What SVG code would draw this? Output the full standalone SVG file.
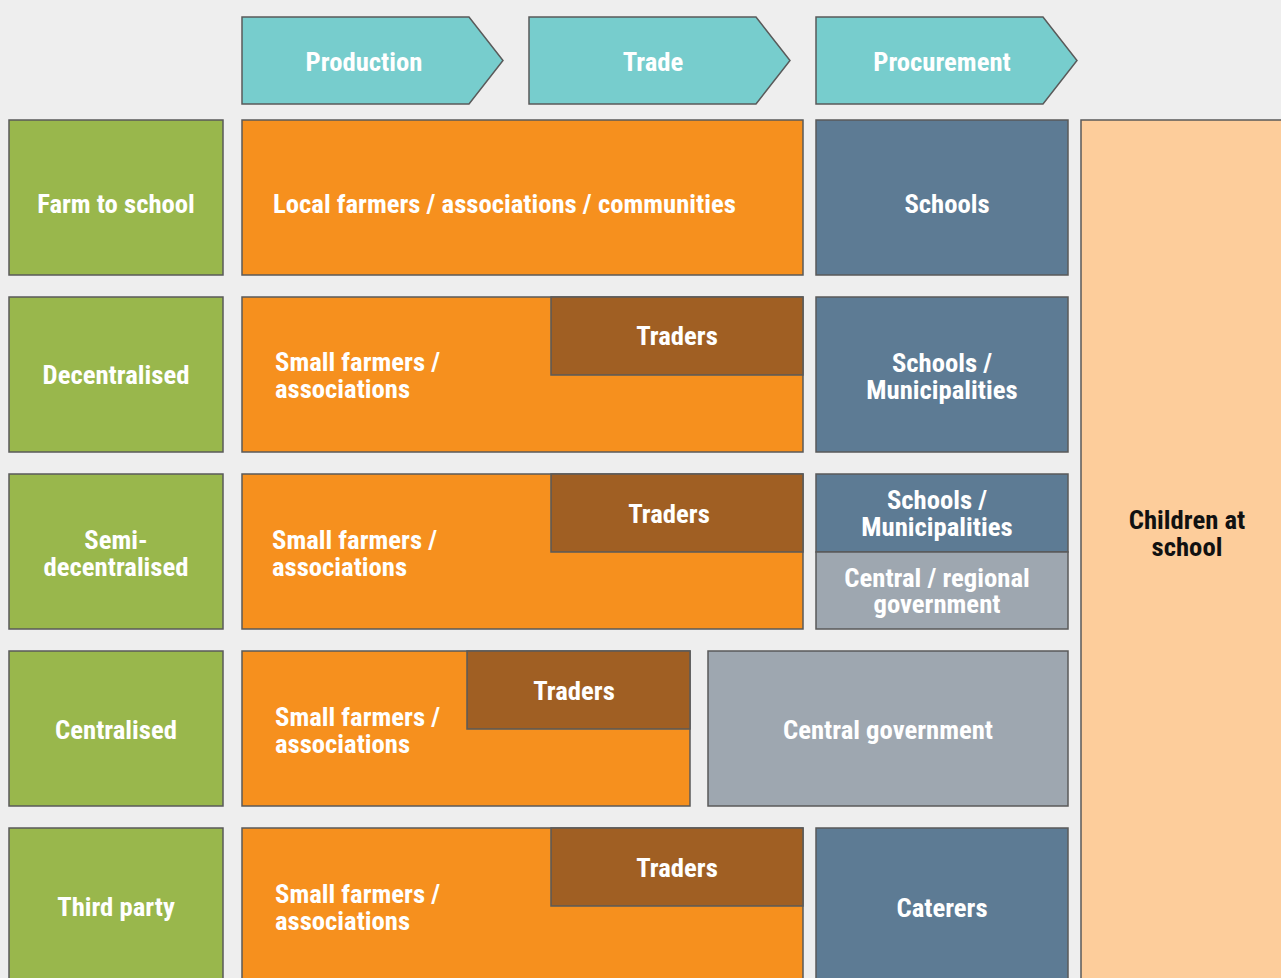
<svg xmlns="http://www.w3.org/2000/svg" width="1281" height="978" viewBox="0 0 1281 978">
<style>
.bx{stroke:#5a5a5a;stroke-width:1.5}
.hd{fill:#77cdcd}
.gr{fill:#99b74c}
.or{fill:#f6901e}
.tr{fill:#a05f23}
.bl{fill:#5d7b94}
.gy{fill:#9ea7b0}
.ch{fill:#fdcd9b}
text{font-family:"Roboto Condensed","Liberation Sans Narrow","DejaVu Sans Condensed",sans-serif;font-weight:bold;font-size:26.7px;fill:#fff}
.c{text-anchor:middle}
.k{fill:#111}
</style>
<rect width="1281" height="978" fill="#eeeeee"/>
<g id="hdr-production"><path class="bx hd" d="M242 17H469L503 60.5L469 104H242Z"/><text class="c" x="364" y="71">Production</text></g>
<g id="hdr-trade"><path class="bx hd" d="M529 17H756L790 60.5L756 104H529Z"/><text class="c" x="653" y="71">Trade</text></g>
<g id="hdr-procurement"><path class="bx hd" d="M816 17H1043L1077 60.5L1043 104H816Z"/><text class="c" x="942" y="71">Procurement</text></g>
<g id="children"><rect class="bx ch" x="1081" y="120" width="210" height="870"/><text class="c k" x="1187" y="529">Children at</text><text class="c k" x="1187" y="556">school</text></g>
<g id="row1">
<g id="farm"><rect class="bx gr" x="9" y="120" width="214" height="155"/><text class="c" x="116" y="213">Farm to school</text></g>
<g id="local"><rect class="bx or" x="242" y="120" width="561" height="155"/><text x="273" y="213">Local farmers / associations / communities</text></g>
<g id="schools1"><rect class="bx bl" x="816" y="120" width="252" height="155"/><text class="c" x="947" y="213">Schools</text></g>
</g>
<g id="row2">
<g id="dec"><rect class="bx gr" x="9" y="297" width="214" height="155"/><text class="c" x="116" y="384">Decentralised</text></g>
<g id="sf2"><rect class="bx or" x="242" y="297" width="561" height="155"/><text x="275" y="371">Small farmers /</text><text x="275" y="398">associations</text></g>
<g id="tr2"><rect class="bx tr" x="551" y="297" width="252" height="78"/><text class="c" x="677" y="345">Traders</text></g>
<g id="sm2"><rect class="bx bl" x="816" y="297" width="252" height="155"/><text class="c" x="942" y="372">Schools /</text><text class="c" x="942" y="399">Municipalities</text></g>
</g>
<g id="row3">
<g id="semi"><rect class="bx gr" x="9" y="474" width="214" height="155"/><text class="c" x="116" y="549">Semi-</text><text class="c" x="116" y="576">decentralised</text></g>
<g id="sf3"><rect class="bx or" x="242" y="474" width="561" height="155"/><text x="272" y="549">Small farmers /</text><text x="272" y="576">associations</text></g>
<g id="tr3"><rect class="bx tr" x="551" y="474" width="252" height="78"/><text class="c" x="669" y="523">Traders</text></g>
<g id="sm3"><rect class="bx bl" x="816" y="474" width="252" height="78"/><text class="c" x="937" y="509">Schools /</text><text class="c" x="937" y="536">Municipalities</text></g>
<g id="crg"><rect class="bx gy" x="816" y="552" width="252" height="77"/><text class="c" x="937" y="587">Central / regional</text><text class="c" x="937" y="613">government</text></g>
</g>
<g id="row4">
<g id="cen"><rect class="bx gr" x="9" y="651" width="214" height="155"/><text class="c" x="116" y="739">Centralised</text></g>
<g id="sf4"><rect class="bx or" x="242" y="651" width="448" height="155"/><text x="275" y="726">Small farmers /</text><text x="275" y="753">associations</text></g>
<g id="tr4"><rect class="bx tr" x="467" y="651" width="223" height="78"/><text class="c" x="574" y="700">Traders</text></g>
<g id="cg"><rect class="bx gy" x="708" y="651" width="360" height="155"/><text class="c" x="888" y="739">Central government</text></g>
</g>
<g id="row5">
<g id="tp"><rect class="bx gr" x="9" y="828" width="214" height="160"/><text class="c" x="116" y="916">Third party</text></g>
<g id="sf5"><rect class="bx or" x="242" y="828" width="561" height="160"/><text x="275" y="903">Small farmers /</text><text x="275" y="930">associations</text></g>
<g id="tr5"><rect class="bx tr" x="551" y="828" width="252" height="78"/><text class="c" x="677" y="877">Traders</text></g>
<g id="cat"><rect class="bx bl" x="816" y="828" width="252" height="160"/><text class="c" x="942" y="917">Caterers</text></g>
</g>
<g id="connectors"></g>
</svg>
